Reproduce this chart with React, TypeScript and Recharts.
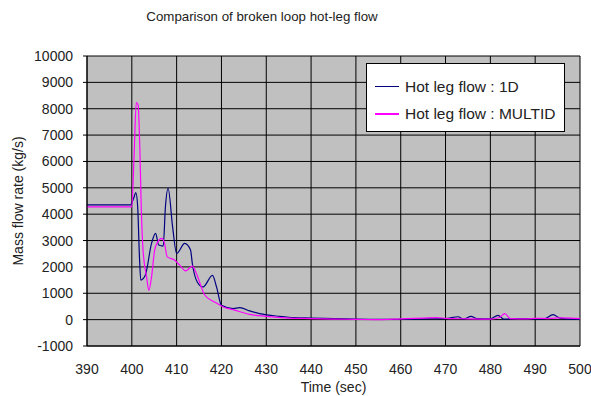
import { LineChart, Line, XAxis, YAxis, CartesianGrid } from "recharts";

const FONT = '"Liberation Sans", Arial, sans-serif';

const xTicks = [390, 400, 410, 420, 430, 440, 450, 460, 470, 480, 490, 500];
const yTicks = [-1000, 0, 1000, 2000, 3000, 4000, 5000, 6000, 7000, 8000, 9000, 10000];

// Hot leg flow : 1D
const time1D = [
  390, 395, 399.7, 400.4, 400.9, 401.3, 401.7, 402.0, 403.0, 404.4, 405.3, 406.0, 407.0, 407.5,
  408.1, 409.1, 410.0, 411.8, 413.1, 413.5, 414.6, 415.9, 418.0, 418.9, 420.0, 422.6, 424.1,
  426.3, 428.5, 432.9, 435, 440, 445, 450, 455, 460, 465, 470, 472.8, 474, 475.7, 477, 480,
  481.7, 483, 486, 490, 492, 494, 495.5, 498, 500,
];
const flow1D = [
  4350, 4350, 4350, 4600, 4814, 4300, 2400, 1500, 1680, 2890, 3270, 2830, 2790, 4280,
  4980, 3520, 2510, 2890, 2640, 2130, 1430, 1240, 1680, 1240, 540, 420, 456,
  330, 230, 125, 90, 60, 40, 20, 10, 15, 30, 40, 110, 20, 120, 40, 30,
  165, 20, 40, 30, 30, 190, 60, 20, 20,
];

// Hot leg flow : MULTID
const timeMulti = [
  390, 395, 400.0, 400.5, 401.0, 401.4, 401.8, 402.1, 402.5, 403.3, 403.8, 404.4, 405.1,
  405.8, 406.7, 407.3, 407.9, 409.6, 410.7, 412.0, 413.5, 414.4, 416.3, 418.9, 420.4,
  422.6, 426.3, 430, 435, 440, 445, 450, 455, 460, 465, 468, 470, 475, 480, 482,
  483.2, 484.5, 488, 490, 493, 495.5, 498, 500,
];
const flowMulti = [
  4280, 4280, 4280, 6200, 8236, 8150, 6440, 4280, 2640, 1620, 1110, 1620, 2640,
  2950, 3080, 2890, 2380, 2255, 2065, 1850, 2030, 1750, 925, 630, 480,
  380, 200, 125, 60, 40, 20, 10, 0, 30, 60, 75, 50, 30, 20, 80,
  230, 40, 30, 50, 40, 70, 60, 40,
];

const seriesNames = ["Hot leg flow : 1D", "Hot leg flow : MULTID"];
const seriesColors = ["#000080", "#ff00ff"];

const data1D = time1D.map((t, i) => ({ t, v: flow1D[i] }));
const dataMulti = timeMulti.map((t, i) => ({ t, v: flowMulti[i] }));

const textColor = "#222";

export default function App() {
  return (
    <div style={{ position: "fixed", left: 0, top: 0, width: 591, height: 396, background: "#fff" }}>
      <div
        style={{
          position: "absolute",
          top: 9,
          left: 132,
          width: 260,
          textAlign: "center",
          fontFamily: FONT,
          fontSize: 13.3,
          color: textColor,
        }}
      >
        Comparison of broken loop hot-leg flow
      </div>
      <LineChart width={591} height={396} margin={{ top: 56, right: 11, bottom: 20, left: 0 }}>
        <CartesianGrid
          stroke="#000"
          strokeWidth={1}
          fill="#c0c0c0"
          fillOpacity={1}
          horizontalValues={yTicks}
          verticalValues={xTicks}
        />
        <XAxis
          dataKey="t"
          type="number"
          domain={[390, 500]}
          ticks={xTicks}
          allowDataOverflow
          axisLine={{ stroke: "#000" }}
          tickLine={false}
          tick={{ fill: textColor, fontSize: 14, fontFamily: FONT }}
          tickMargin={12}
          height={30}
          label={{ value: "Time (sec)", position: "insideBottom", offset: -16, fill: textColor, fontSize: 14, fontFamily: FONT }}
        />
        <YAxis
          type="number"
          domain={[-1000, 10000]}
          ticks={yTicks}
          interval={0}
          allowDataOverflow
          width={87}
          axisLine={{ stroke: "#000" }}
          tickLine={{ stroke: "#000" }}
          tickSize={4}
          tickMargin={10}
          tick={{ fill: textColor, fontSize: 14, fontFamily: FONT }}
          label={{
            value: "Mass flow rate (kg/s)",
            angle: -90,
            position: "insideLeft",
            offset: 18,
            style: { textAnchor: "middle", fill: textColor, fontSize: 14, fontFamily: FONT },
          }}
        />
        <Line
          data={data1D}
          dataKey="v"
          name={seriesNames[0]}
          type="monotone"
          stroke={seriesColors[0]}
          strokeWidth={1.2}
          dot={false}
          isAnimationActive={false}
        />
        <Line
          data={dataMulti}
          dataKey="v"
          name={seriesNames[1]}
          type="monotone"
          stroke={seriesColors[1]}
          strokeWidth={1.2}
          dot={false}
          isAnimationActive={false}
        />
      </LineChart>
      {/* legend box */}
      <div
        style={{
          position: "absolute",
          top: 63,
          left: 366,
          width: 199,
          height: 69,
          background: "#fff",
          border: "1px solid #000",
          boxSizing: "border-box",
          padding: "9px 0 0 8px",
          fontFamily: FONT,
          fontSize: 15.5,
          color: textColor,
        }}
      >
        {seriesNames.map((name, i) => (
          <div key={name} style={{ display: "flex", alignItems: "center", height: 27 }}>
            <span
              style={{
                display: "inline-block",
                width: 24,
                height: 0,
                borderTop: `${i === 1 ? 2 : 1}px solid ${seriesColors[i]}`,
                marginRight: 6,
              }}
            />
            <span>{name}</span>
          </div>
        ))}
      </div>
    </div>
  );
}
